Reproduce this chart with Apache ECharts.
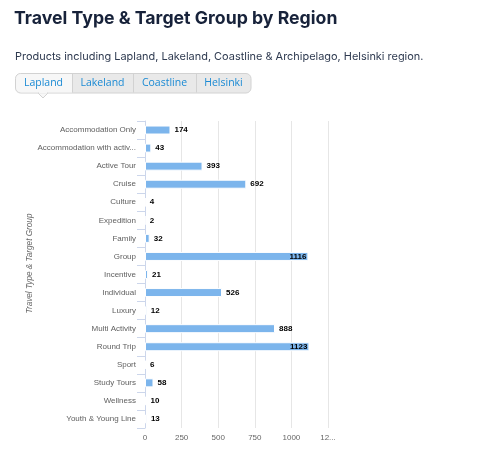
<!DOCTYPE html>
<html>
<head>
<meta charset="utf-8">
<script src="https://cdn.jsdelivr.net/npm/echarts@6/dist/echarts.min.js"></script>
<style>
html,body{margin:0;padding:0;background:#fff;}
#chart{width:500px;height:462px;}
</style>
</head>
<body>
<div id="chart"></div>
<script>
const titleText = 'Travel Type & Target Group by Region';
const subtitleText = 'Products including Lapland, Lakeland, Coastline & Archipelago, Helsinki region.';
const tabs = ['Lapland', 'Lakeland', 'Coastline', 'Helsinki'];
const categories = ['Accommodation Only', 'Accommodation with activities', 'Active Tour', 'Cruise', 'Culture', 'Expedition', 'Family', 'Group', 'Incentive', 'Individual', 'Luxury', 'Multi Activity', 'Round Trip', 'Sport', 'Study Tours', 'Wellness', 'Youth & Young Line'];
const values = [174, 43, 393, 692, 4, 2, 32, 1116, 21, 526, 12, 888, 1123, 6, 58, 10, 13];
const xTicks = [0, 250, 500, 750, 1000, 1250];
const axisName = 'Travel Type & Target Group';
</script>
<script>
const chart = echarts.init(document.getElementById('chart'), null, {renderer: 'canvas'});
const tabX = [15, 72, 133, 196, 251];
const g = [];
g.push({type: 'rect', shape: {x: 15.5, y: 73.5, width: 235.5, height: 19.5, r: 5}, style: {fill: '#e9e9e9', stroke: '#d2d2d2', lineWidth: 1}, z: 10});
g.push({type: 'rect', shape: {x: 16, y: 74, width: 56, height: 18.5, r: [5, 0, 0, 5]}, style: {fill: '#f7f7f7'}, z: 11});
for (let i = 1; i < 4; i++) {
  g.push({type: 'line', shape: {x1: tabX[i] + 0.5, y1: 74, x2: tabX[i] + 0.5, y2: 92.5}, style: {stroke: '#d2d2d2', lineWidth: 1}, z: 12});
}
g.push({type: 'polygon', shape: {points: [[38, 93], [48, 93], [43, 98]]}, style: {fill: '#f7f7f7', stroke: '#d2d2d2', lineWidth: 1}, z: 12});
g.push({type: 'rect', shape: {x: 38.8, y: 92, width: 8.4, height: 1.6}, style: {fill: '#f7f7f7'}, z: 13});
tabs.forEach((t, i) => {
  g.push({type: 'text', x: (tabX[i] + tabX[i + 1]) / 2, y: 83.5, style: {text: t, fill: '#1a8ad4', font: '10.5px "Open Sans", sans-serif', textAlign: 'center', textVerticalAlign: 'middle'}, z: 14});
});
g.push({type: 'text', x: 30, y: 263.5, rotation: Math.PI / 2, style: {text: axisName, fill: '#666', font: 'italic 8.2px "Liberation Sans", sans-serif', textAlign: 'center', textVerticalAlign: 'middle'}, z: 14});

const data = values.map(v => {
  const d = {value: v};
  if (v > 1100) d.label = {position: 'insideRight', distance: 2};
  return d;
});

chart.setOption({
  animation: false,
  title: [
    {text: titleText, left: 9, top: 5, textStyle: {fontFamily: 'Inter', fontWeight: 'bold', fontSize: 17.7, color: '#17223a'}},
    {text: subtitleText, left: 10, top: 46, textStyle: {fontFamily: 'Inter', fontWeight: 'normal', fontSize: 10.95, color: '#2e3a50'}}
  ],
  graphic: g,
  grid: {left: 145, right: 172, top: 121, bottom: 34, containLabel: false},
  xAxis: {
    type: 'value', min: 0, max: 1250, interval: 250,
    axisLine: {show: false}, axisTick: {show: false},
    splitLine: {lineStyle: {color: '#e6e6e6', width: 1}},
    axisLabel: {color: '#666', fontSize: 8, margin: 6, fontFamily: '"Liberation Sans", sans-serif',
      formatter: v => (v === xTicks[5] ? '12...' : String(v))}
  },
  yAxis: {
    type: 'category', inverse: true, data: categories,
    axisLine: {lineStyle: {color: '#ccd6eb'}},
    axisTick: {show: true, length: 8, lineStyle: {color: '#ccd6eb'}},
    axisLabel: {color: '#606060', fontSize: 8, margin: 9, width: 101, overflow: 'truncate', ellipsis: '...', fontFamily: '"Liberation Sans", sans-serif'}
  },
  series: [{
    type: 'bar', data: data, barWidth: 9,
    itemStyle: {color: '#7cb5ec', borderColor: '#ffffff', borderWidth: 1},
    label: {show: true, position: 'right', distance: 4, color: '#000', fontWeight: 'bold', fontSize: 8, fontFamily: '"Liberation Sans", sans-serif'}
  }]
});
</script>
</body>
</html>
